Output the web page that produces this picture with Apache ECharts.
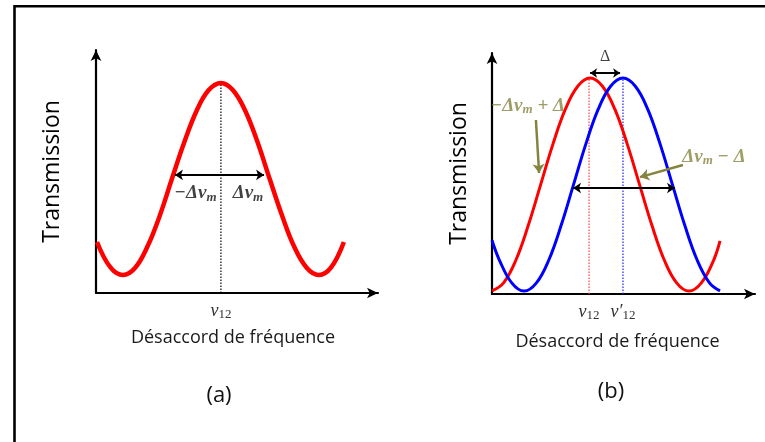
<!DOCTYPE html>
<html>
<head>
<meta charset="utf-8">
<script src="https://cdn.jsdelivr.net/npm/echarts@6/dist/echarts.min.js"></script>
<style>
html,body{margin:0;padding:0;background:#fff;}
#chart{width:765px;height:442px;}
</style>
</head>
<body>
<div id="chart"></div>
<script>
// ---------- Data ----------
// Panel (a): detuning positions (0..100 along the axis) and transmission (0..1)
const detuningA = [0.35, 5.2, 9.6, 13.9, 18.2, 22.6, 26.9, 31.3, 35.6, 39.9, 44.3, 48.6, 53.0, 57.3, 61.6, 66.0, 70.3, 74.7, 79.0, 83.3, 87.9];
const transmissionA = [0.21, 0.104, 0.074, 0.104, 0.19, 0.318, 0.469, 0.62, 0.748, 0.834, 0.864, 0.834, 0.748, 0.62, 0.469, 0.318, 0.19, 0.104, 0.074, 0.104, 0.21];

// Panel (b): red curve (centred on v12) and blue curve (centred on v'12)
const detuningRedB = [0, 4.4, 9.1, 13.8, 18.5, 23.2, 27.9, 32.6, 37.3, 42.0, 46.7, 51.4, 56.1, 60.8, 65.5, 70.2, 74.9, 79.6, 84.3, 86.7];
const transmissionRedB = [0.013, 0.046, 0.141, 0.285, 0.454, 0.623, 0.767, 0.862, 0.896, 0.862, 0.767, 0.623, 0.454, 0.285, 0.141, 0.046, 0.012, 0.046, 0.141, 0.22];
const detuningBlueB = [0, 2.8, 7.5, 12.2, 16.9, 21.6, 26.3, 31.0, 35.7, 40.4, 45.1, 49.8, 54.5, 59.2, 63.9, 68.6, 73.3, 78.0, 82.7, 86.7];
const transmissionBlueB = [0.223, 0.141, 0.046, 0.012, 0.046, 0.141, 0.285, 0.454, 0.623, 0.767, 0.862, 0.896, 0.862, 0.767, 0.623, 0.454, 0.285, 0.141, 0.046, 0.013];

// Resonance positions (tick values) and their labels
const tickValuesA = [44.3];
const tickLabelsA = ['v|12'];
const tickValuesB = [36.9, 49.8];
const tickLabelsB = ['v|12', "v′|12"];
const peakA = 0.864;
const peakB = 0.896;

// Arrows (start / end in data units)
const arrowA = [[28.0, 0.486], [59.6, 0.486]];
const arrowDeltaB = [[37.3, 0.917], [48.7, 0.917]];
const arrowWidthB = [[30.8, 0.44], [69.6, 0.44]];
const oliveArrow1 = [[16.7, 0.722], [17.9, 0.502]];
const oliveArrow2 = [[72.6, 0.535], [56.3, 0.485]];

// Annotation texts and anchor points
const annotA = [
  { text: '−Δv|m', at: [35.3, 0.41] },
  { text: 'Δv|m', at: [53.9, 0.41] }
];
const annotB = [
  { text: '−Δv|m| + Δ', at: [13.6, 0.78] },
  { text: 'Δv|m| − Δ', at: [84.4, 0.568] }
];
const deltaLabel = { text: 'Δ', at: [43.0, 0.985] };

// ---------- Helpers ----------
const zip = (xs, ys) => xs.map((x, i) => [x, ys[i]]);
const OLIVE = '#84843f';
const mathFmt = s => {
  const p = s.split('|');
  let out = '{m|' + p[0] + '}';
  if (p.length > 1) out += '{s|' + p[1] + '}';
  if (p.length > 2) out += '{m|' + p[2] + '}';
  return out;
};
const tickFmt = s => {
  const p = s.split('|');
  return '{v|' + p[0] + '}{n|' + p[1] + '}';
};
const mathRich = color => ({
  m: { fontFamily: 'Liberation Serif', fontStyle: 'italic', fontWeight: 'bold', fontSize: 19, color: color },
  s: { fontFamily: 'Liberation Serif', fontStyle: 'italic', fontWeight: 'bold', fontSize: 13, color: color, padding: [8, 0, 0, 0] }
});
const tickRich = {
  v: { fontFamily: 'Liberation Serif', fontStyle: 'italic', fontSize: 18, color: '#333' },
  n: { fontFamily: 'Liberation Serif', fontSize: 13, color: '#333', padding: [7, 0, 0, 0] }
};

function axisPair(idx, tickVals, tickLabels) {
  const x = {
    type: 'value', gridIndex: idx, min: 0, max: 100,
    name: 'Désaccord de fréquence', nameLocation: 'middle',
    nameGap: idx === 0 ? 36 : 39,
    nameTextStyle: { fontFamily: 'Open Sans', fontSize: 18, color: '#1a1a1a', padding: [0, idx === 0 ? 8 : 12, 0, 0] },
    axisLine: { show: true, symbol: ['none', 'arrow'], symbolSize: [8, 11], lineStyle: { color: '#000', width: 2.2 } },
    axisTick: { show: false },
    splitLine: { show: false },
    axisLabel: {
      show: true, customValues: tickVals, margin: 8,
      formatter: v => {
        const i = tickVals.findIndex(t => Math.abs(t - v) < 1e-6);
        return i >= 0 ? tickFmt(tickLabels[i]) : '';
      },
      rich: tickRich
    }
  };
  const y = {
    type: 'value', gridIndex: idx, min: 0, max: 1,
    name: 'Transmission', nameLocation: 'middle', nameRotate: 90,
    nameGap: idx === 0 ? 32 : 21,
    nameTextStyle: { fontFamily: 'Open Sans', fontSize: 23, color: '#000' },
    axisLine: { show: true, symbol: ['none', 'arrow'], symbolSize: [8, 11], lineStyle: { color: '#000', width: 2.2 } },
    axisTick: { show: false },
    splitLine: { show: false },
    axisLabel: { show: false }
  };
  return [x, y];
}
const [xa, ya] = axisPair(0, tickValuesA, tickLabelsA);
const [xb, yb] = axisPair(1, tickValuesB, tickLabelsB);

function curve(idx, xs, ys, color, width) {
  return { type: 'line', xAxisIndex: idx, yAxisIndex: idx, data: zip(xs, ys), smooth: 0.4, showSymbol: false,
    lineStyle: { color: color, width: width }, itemStyle: { color: color }, z: 3 };
}
function vline(idx, x, top, color) {
  return { type: 'line', xAxisIndex: idx, yAxisIndex: idx, data: [[x, 0], [x, top]], showSymbol: false,
    lineStyle: { color: color, width: 1.2, type: [1.5, 1.5] }, z: 2 };
}
function arrow(idx, coords, color, width, both, size) {
  return { type: 'lines', coordinateSystem: 'cartesian2d', xAxisIndex: idx, yAxisIndex: idx,
    symbol: [both ? 'arrow' : 'none', 'arrow'], symbolSize: size,
    lineStyle: { color: color, width: width, opacity: 1, curveness: 0 }, z: 5,
    data: [{ coords: coords }] };
}
function labels(idx, items, color) {
  return { type: 'scatter', xAxisIndex: idx, yAxisIndex: idx, symbolSize: 0, z: 6,
    data: items.map(it => ({ value: it.at, name: it.text })),
    label: { show: true, position: 'inside', formatter: p => mathFmt(p.name), rich: mathRich(color) } };
}

const chart = echarts.init(document.getElementById('chart'), null, { renderer: 'canvas' });
chart.setOption({
  backgroundColor: '#fff',
  animation: false,
  grid: [
    { left: 96, top: 50, width: 282, height: 243 },
    { left: 492, top: 53, width: 263, height: 241 }
  ],
  xAxis: [xa, xb],
  yAxis: [ya, yb],
  graphic: [
    { type: 'polyline', shape: { points: [[14.5, 445], [14.5, 6.2], [770, 6.2]] }, style: { stroke: '#000', lineWidth: 2.6, fill: null } },
    { type: 'text', x: 219, y: 396, style: { text: '(a)', font: '22px "Open Sans"', fill: '#111', textAlign: 'center', textVerticalAlign: 'middle' } },
    { type: 'text', x: 611, y: 392, style: { text: '(b)', font: '22px "Open Sans"', fill: '#111', textAlign: 'center', textVerticalAlign: 'middle' } }
  ],
  series: [
    vline(0, tickValuesA[0], peakA, '#000'),
    curve(0, detuningA, transmissionA, '#ff0000', 4.5),
    arrow(0, arrowA, '#000', 2, true, 8),
    labels(0, annotA, '#111'),

    vline(1, tickValuesB[0], peakB, '#ff4040'),
    vline(1, tickValuesB[1], peakB, '#2020ff'),
    curve(1, detuningRedB, transmissionRedB, '#ff0000', 3),
    curve(1, detuningBlueB, transmissionBlueB, '#0000ff', 3),
    arrow(1, arrowDeltaB, '#000', 2, true, 7),
    arrow(1, arrowWidthB, '#000', 2, true, 8),
    arrow(1, oliveArrow1, OLIVE, 2.5, false, 9),
    arrow(1, oliveArrow2, OLIVE, 2.5, false, 9),
    labels(1, annotB, OLIVE),
    { type: 'scatter', xAxisIndex: 1, yAxisIndex: 1, symbolSize: 0, z: 6,
      data: [{ value: deltaLabel.at, name: deltaLabel.text }],
      label: { show: true, position: 'inside', formatter: p => p.name, fontFamily: 'Liberation Serif', fontSize: 16, color: '#111' } }
  ]
});
</script>
</body>
</html>
